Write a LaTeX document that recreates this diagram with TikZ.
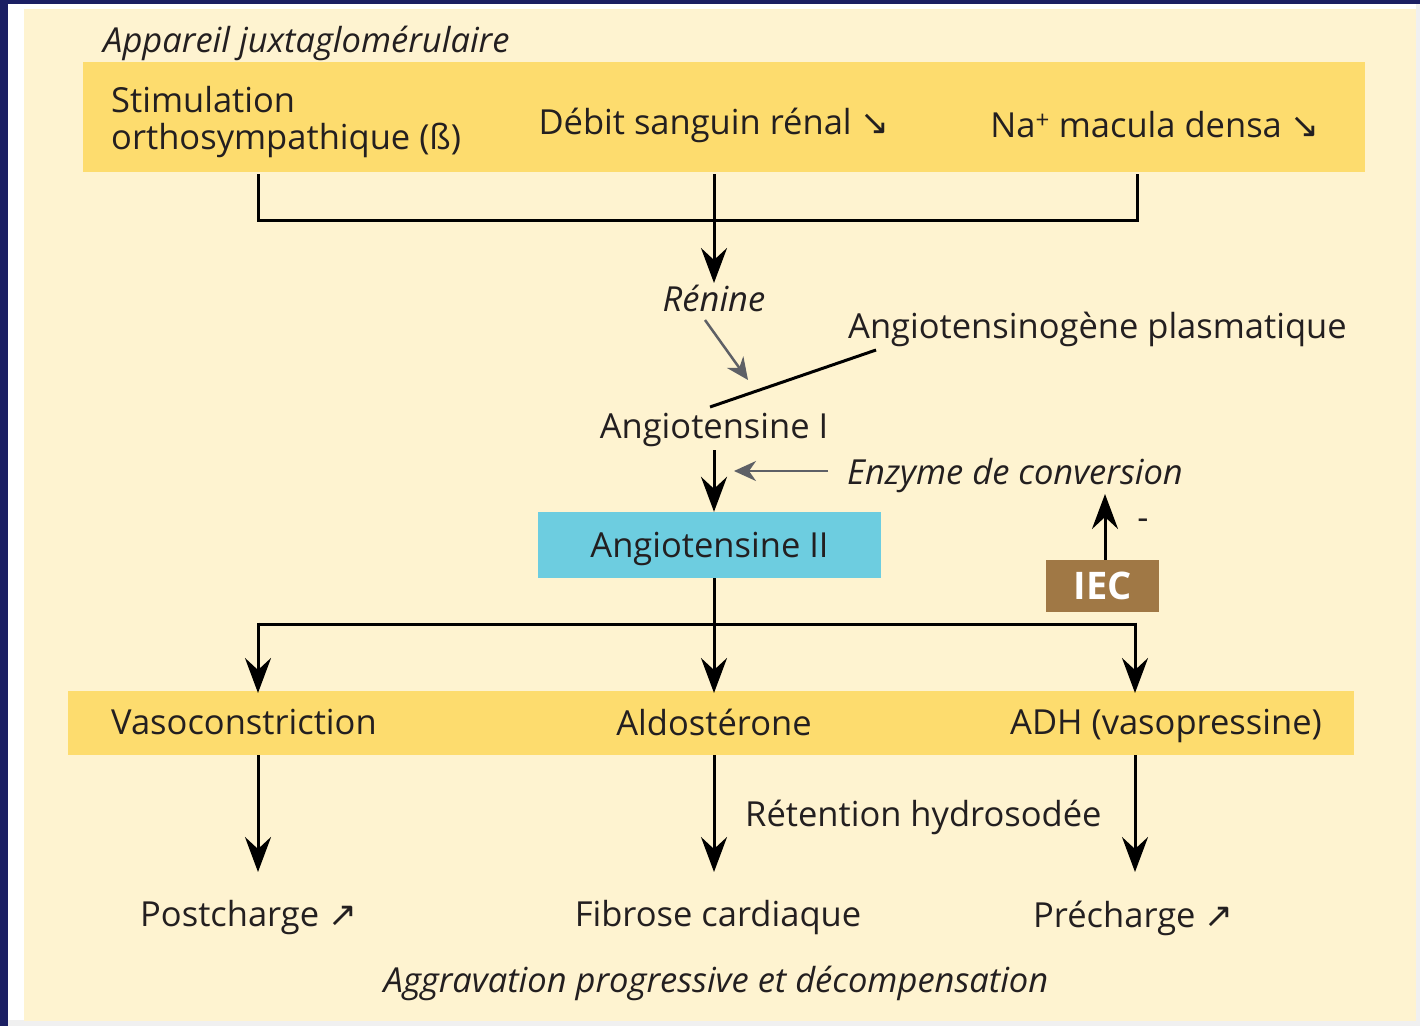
\documentclass[tikz,border=0pt]{standalone}
\usepackage{fontspec}
\setmainfont{Open Sans}
\newfontfamily\arrowfont{DejaVu Sans}
\usetikzlibrary{arrows.meta}
\definecolor{navy}{HTML}{1B1F63}
\definecolor{cream}{HTML}{FEF3D0}
\definecolor{band}{HTML}{FDDC6E}
\definecolor{cyanbox}{HTML}{6DCDE0}
\definecolor{brownbox}{HTML}{A07845}
\definecolor{txt}{HTML}{231F20}
\definecolor{grayarrow}{HTML}{5E6066}
\tikzset{
  lbl/.style={font=\fontsize{34.5}{37}\selectfont, text=txt, inner sep=0pt},
  ilbl/.style={lbl, font=\fontsize{34.5}{37}\selectfont\itshape},
  conn/.style={line width=3pt, draw=black},
  arr/.style={conn, -{Stealth[length=35pt,width=26pt,inset=12pt]}},
  garr/.style={line width=2.5pt, draw=grayarrow, -{Stealth[length=22pt,width=20pt,inset=7pt]}},
}
\newcommand{\dnarrow}{{\arrowfont\char"2198}}
\newcommand{\uparr}{{\arrowfont\char"2197}}
\begin{document}
\begin{tikzpicture}[x=1pt,y=-1pt]
\useasboundingbox (0,0) rectangle (1420,1026);
% frame
\fill[gray!12] (0,0) rectangle (1420,1026);
\fill[white] (8,4) rectangle (1416,1020);
\fill[navy] (0,0) rectangle (8,1026);
\fill[navy] (0,0) rectangle (1420,4);
\fill[cream] (24,9) rectangle (1416,1021);
% bands
\fill[band] (83,62) rectangle (1365,172);
\fill[band] (68,691) rectangle (1354,755);
% title
\node[ilbl, anchor=west] (title) at (103,43) {Appareil juxtaglomérulaire};
% top band texts
\node[lbl, anchor=west, align=left] (stim) at (111,122) {Stimulation\\orthosympathique (ß)};
\node[lbl] (debit) at (714,125) {Débit sanguin rénal \dnarrow};
\node[lbl, anchor=east] (na) at (1320,125) {Na\textsuperscript{+} macula densa \dnarrow};
\coordinate (s1) at (258,174);
\coordinate (s2) at (714,174);
\coordinate (s3) at (1137,174);
\coordinate (renarr) at (714,283);
\draw[conn] (s1) |- (s3 |- 0,220) -- (s3);
\draw[arr] (s2) -- (renarr);
\node[ilbl] (renine) at (714,298) {Rénine};
\coordinate (g1) at (705,320);
\coordinate (g2) at (748,380);
\draw[garr] (g1) -- (g2);
\node[lbl, anchor=west] (angen) at (848,329) {Angiotensinogène plasmatique};
\coordinate (l1) at (876,350);
\coordinate (l2) at (710,407);
\draw[line width=3pt] (l1) -- (l2);
\node[lbl] (ang1) at (714,430) {Angiotensine I};
\node[ilbl, anchor=west] (enz) at (847,476) {Enzyme de conversion};
\node[fill=cyanbox, minimum width=343pt, minimum height=66pt, inner sep=0pt, text depth=0pt, font=\fontsize{34.5}{37}\selectfont, text=txt] (ang2) at (709.5,545) {Angiotensine II};
\draw[arr] (714,450) -- (ang2.north -| 714,0);
\coordinate (e1) at (828,471);
\coordinate (e2) at (734,471);
\draw[garr] (e1) -- (e2);
\node[fill=brownbox, minimum width=113pt, minimum height=52pt, inner sep=0pt, text=white, font=\fontsize{38}{40}\selectfont\bfseries] (iec) at (1102.5,586) {IEC};
\coordinate (iectop) at (1105,494);
\draw[arr] (iec.north -| 1105,0) -- (iectop);
\node[lbl] (minus) at (1143,524) {-};
% distribution
\coordinate (b1) at (258,693);
\coordinate (b2) at (714,693);
\coordinate (b3) at (1135,693);
\draw[conn] (b1 |- 0,624) -- (b3 |- 0,624);
\draw[arr] (ang2.south -| b2) -- (b2);
\draw[arr] (b1 |- 0,622.5) -- (b1);
\draw[arr] (b3 |- 0,622.5) -- (b3);
\node[lbl, anchor=west] (vaso) at (111,722) {Vasoconstriction};
\node[lbl] (aldo) at (714,722) {Aldostérone};
\node[lbl, anchor=east] (adh) at (1322,726) {ADH (vasopressine)};
\coordinate (c1) at (258,872);
\coordinate (c2) at (714,872);
\coordinate (c3) at (1135,872);
\draw[arr] (b1 |- 0,755) -- (c1);
\draw[arr] (b2 |- 0,755) -- (c2);
\draw[arr] (b3 |- 0,755) -- (c3);
\node[lbl, anchor=west] (ret) at (745,817) {Rétention hydrosodée};
\node[lbl, anchor=west] (post) at (140,918) {Postcharge \uparr};
\node[lbl] (fib) at (718,918) {Fibrose cardiaque};
\node[lbl, anchor=west] (prec) at (1033,918) {Précharge \uparr};
\node[ilbl] (aggr) at (716,983) {Aggravation progressive et décompensation};
\end{tikzpicture}
\end{document}
